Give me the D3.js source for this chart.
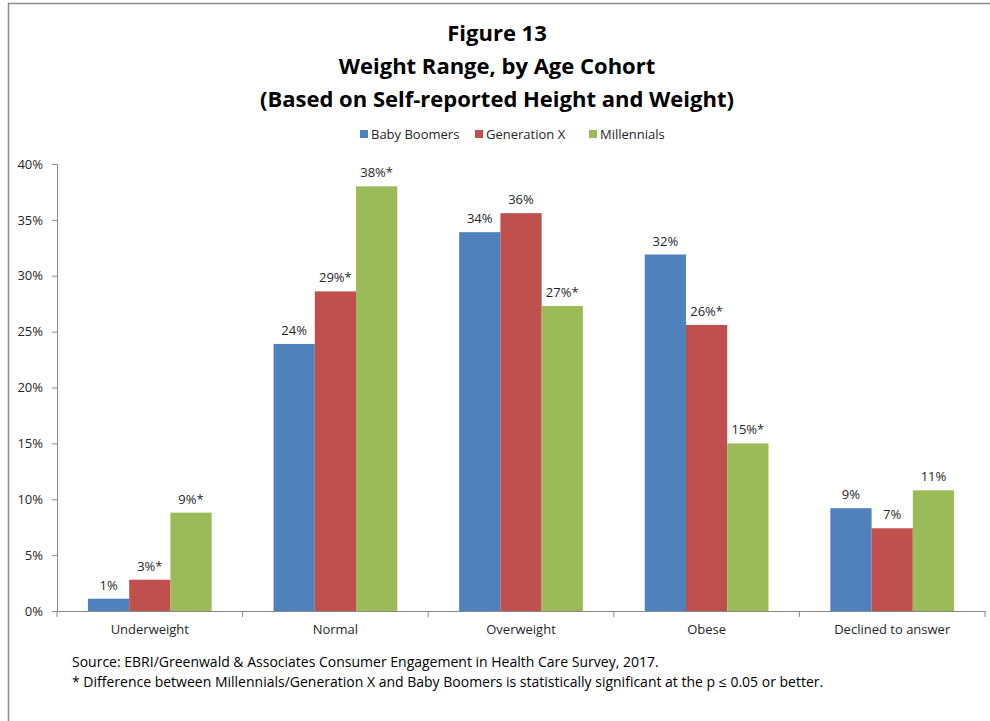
<!DOCTYPE html>
<html>
<head>
<meta charset="utf-8">
<script src="https://cdn.jsdelivr.net/npm/d3@7"></script>
<style>
  html, body { margin: 0; padding: 0; background: #fff; }
  svg { display: block; }
  text { font-family: "Open Sans", "Noto Sans", sans-serif; fill: #262626; }
</style>
</head>
<body>
<svg id="chart" width="990" height="721"></svg>
<script>
// Weight range by age cohort (share of respondents)
const categories = ["Underweight", "Normal", "Overweight", "Obese", "Declined to answer"];
const seriesNames = ["Baby Boomers", "Generation X", "Millennials"];
const babyBoomers = [0.011, 0.239, 0.339, 0.319, 0.092];
const generationX = [0.028, 0.286, 0.356, 0.256, 0.074];
const millennials = [0.088, 0.380, 0.273, 0.150, 0.108];
// significance flags (*) per series, per category
const sigBabyBoomers = [false, false, false, false, false];
const sigGenerationX = [true, true, false, true, false];
const sigMillennials = [true, true, true, true, false];
const yTicks = [0, 0.05, 0.10, 0.15, 0.20, 0.25, 0.30, 0.35, 0.40];
const titleLines = ["Figure 13", "Weight Range, by Age Cohort", "(Based on Self-reported Height and Weight)"];
const notes = [
  "Source: EBRI/Greenwald & Associates Consumer Engagement in Health Care Survey, 2017.",
  "* Difference between Millennials/Generation X and Baby Boomers is statistically significant at the p \u2264 0.05 or better."
];
const colors = ["#4F81BD", "#C0504D", "#9BBB59"];

const series = [
  { name: seriesNames[0], values: babyBoomers, sig: sigBabyBoomers },
  { name: seriesNames[1], values: generationX, sig: sigGenerationX },
  { name: seriesNames[2], values: millennials, sig: sigMillennials }
];

const svg = d3.select("#chart");

// outer frame
svg.append("rect")
  .attr("x", 8.5).attr("y", 3.5)
  .attr("width", 1000).attr("height", 1000)
  .attr("fill", "none").attr("stroke", "#8c8c8c").attr("stroke-width", 1.5);

// title block
svg.append("g").selectAll("text").data(titleLines).join("text")
  .attr("x", 497).attr("y", (d, i) => 41 + i * 33)
  .attr("text-anchor", "middle")
  .style("font-family", "'Open Sans', sans-serif")
  .style("font-weight", "700").style("font-size", "22px")
  .style("fill", "#000")
  .text(d => d);

// plot area
const x0 = d3.scaleBand().domain(categories).range([57, 985]).paddingInner(0).paddingOuter(0);
const x1 = d3.scaleBand().domain(seriesNames).range([0, x0.bandwidth()]).paddingInner(0).paddingOuter(0.75);
const y = d3.scaleLinear().domain([0, 0.40]).range([611, 164]);

// y axis
const yAxis = d3.axisLeft(y).tickValues(yTicks).tickFormat(d3.format(".0%")).tickSize(5).tickPadding(9);
const gy = svg.append("g").attr("transform", "translate(57,0)").call(yAxis);
gy.select(".domain").attr("stroke", "#888");
gy.selectAll(".tick line").attr("stroke", "#888");
gy.selectAll(".tick text").style("font-size", "13px").style("fill", "#262626")
  .style("font-family", "'Open Sans', sans-serif");

// bars
const groups = svg.append("g").selectAll("g").data(series).join("g");
groups.each(function(s, si) {
  const g = d3.select(this);
  g.selectAll("rect").data(categories).join("rect")
    .attr("x", c => x0(c) + x1(s.name))
    .attr("y", (c, ci) => y(s.values[ci]))
    .attr("width", x1.bandwidth())
    .attr("height", (c, ci) => y(0) - y(s.values[ci]))
    .attr("fill", colors[si]);
  g.selectAll("text").data(categories).join("text")
    .attr("x", c => x0(c) + x1(s.name) + x1.bandwidth() / 2)
    .attr("y", (c, ci) => y(s.values[ci]) - 9)
    .attr("text-anchor", "middle")
    .style("font-size", "13px")
    .text((c, ci) => d3.format(".0%")(s.values[ci]) + (s.sig[ci] ? "*" : ""));
});

// x axis
const xAxis = d3.axisBottom(x0).tickSize(0).tickPadding(14);
const gx = svg.append("g").attr("transform", "translate(0,611)").call(xAxis);
gx.select(".domain").attr("stroke", "#888");
gx.selectAll(".tick text").style("font-size", "13px").style("fill", "#262626")
  .style("font-family", "'Open Sans', sans-serif");
// category separators
svg.append("g").selectAll("line").data(categories.concat(["end"])).join("line")
  .attr("x1", (d, i) => i < categories.length ? x0(d) : x0.range()[1])
  .attr("x2", (d, i) => i < categories.length ? x0(d) : x0.range()[1])
  .attr("y1", 611).attr("y2", 617)
  .attr("stroke", "#888");

// legend
const legendX = [360, 475, 589];
const legend = svg.append("g").selectAll("g").data(seriesNames).join("g")
  .attr("transform", (d, i) => `translate(${legendX[i]},134)`);
legend.append("rect").attr("x", 0).attr("y", -4).attr("width", 8).attr("height", 8)
  .attr("fill", (d, i) => colors[i]);
legend.append("text").attr("x", 11).attr("y", 5).style("font-size", "13px").text(d => d);

// footnotes
svg.append("g").selectAll("text").data(notes).join("text")
  .attr("x", 72).attr("y", (d, i) => 667 + i * 20)
  .style("font-size", "14px")
  .style("fill", "#000")
  .text(d => d);
</script>
</body>
</html>
